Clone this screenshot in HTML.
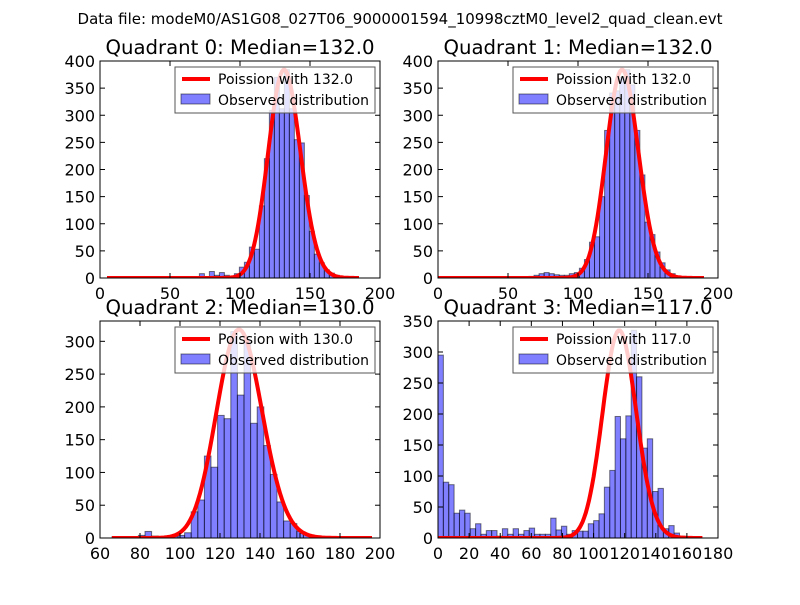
<!DOCTYPE html>
<html><head><meta charset="utf-8"><style>
body{margin:0;background:#fff}
svg text{font-family:"DejaVu Sans","Liberation Sans",sans-serif;fill:#000}
</style></head><body>
<svg id="fig" width="800" height="600" xmlns="http://www.w3.org/2000/svg">
<rect width="800" height="600" fill="#fff"/>
<text x="400" y="24" font-size="15" text-anchor="middle">Data file: modeM0/AS1G08_027T06_9000001594_10998cztM0_level2_quad_clean.evt</text>
</svg>
<script>
// Data arrays
const titles = ["Quadrant 0: Median=132.0","Quadrant 1: Median=132.0","Quadrant 2: Median=130.0","Quadrant 3: Median=117.0"];
const medians = [132, 132, 130, 117];
const poissonScale = [11060, 11060, 9090, 9080];
const curveRange0 = [5, 185];
const curveRange1 = [0, 190];
const curveRange2 = [66, 196];
const curveRange3 = [0, 170];
const binStart = [71, 65, 66, 0];
const binWidth = [3.57, 3.6, 3.3, 3.45];
const counts0 = [8,2,12,5,10,5,3,8,20,29,57,53,133,220,309,370,312,384,312,255,249,152,86,44,28,15,9,5,2];
const counts1 = [3,5,8,10,8,6,5,5,8,10,18,34,66,76,150,272,341,345,370,384,356,272,190,103,80,48,28,15,8,3];
const counts2 = [2,0,0,2,4,10,3,2,3,2,4,8,40,58,125,108,187,182,315,218,300,175,200,141,97,55,26,22,10,5,3,1];
const counts3 = [295,90,86,40,45,40,15,23,6,12,12,3,15,6,15,6,12,16,6,6,6,32,13,19,6,12,11,11,23,28,39,82,109,196,160,197,335,260,145,160,75,80,15,20,8,3];
const xTicks0 = [0,50,100,150,200];
const xTicks2 = [60,80,100,120,140,160,180,200];
const xTicks3 = [0,20,40,60,80,100,120,140,160,180];
const yTicks0 = [0,50,100,150,200,250,300,350,400];
const yTicks2 = [0,50,100,150,200,250,300];
const yTicks3 = [0,50,100,150,200,250,300,350];
const xLims = [[0,200],[0,200],[60,200],[0,180]];
const yLims = [[0,400],[0,400],[0,331],[0,350]];

const NS = "http://www.w3.org/2000/svg";
const svg = document.getElementById('fig');
function mk(tag, attrs, parent){const e=document.createElementNS(NS,tag);for(const k in attrs)e.setAttribute(k,attrs[k]);(parent||svg).appendChild(e);return e;}
function lgamma(z){const c=[76.18009172947146,-86.50532032941677,24.01409824083091,-1.231739572450155,0.1208650973866179e-2,-0.5395239384953e-5];let x=z,y=z,t=x+5.5;t-=(x+0.5)*Math.log(t);let s=1.000000000190015;for(let j=0;j<6;j++)s+=c[j]/++y;return -t+Math.log(2.5066282746310005*s/x);}
function pois(k,mu){return Math.exp(k*Math.log(mu)-mu-lgamma(k+1));}

const boxes=[[100,61,280,217],[438,61,280,217],[100,321,280,217],[438,321,280,217]];
const allCounts=[counts0,counts1,counts2,counts3];
const ranges=[curveRange0,curveRange1,curveRange2,curveRange3];
const xt=[xTicks0,xTicks0,xTicks2,xTicks3];
const yt=[yTicks0,yTicks0,yTicks2,yTicks3];

for(let p=0;p<4;p++){
  const [L,T,W,H]=boxes[p];
  const xs=v=>L+(v-xLims[p][0])/(xLims[p][1]-xLims[p][0])*W;
  const ys=v=>T+H-(v-yLims[p][0])/(yLims[p][1]-yLims[p][0])*H;
  const g=mk('g',{});
  
  
  const t=mk('text',{x:L+W/2,y:T-7,'font-size':19.7,'text-anchor':'middle'},g);
  t.textContent=titles[p];
  
  
  const cp='clip'+p;
  const cl=mk('clipPath',{id:cp},g);mk('rect',{x:L,y:T,width:W,height:H},cl);
  const inner=mk('g',{'clip-path':'url(#'+cp+')'},g);
  allCounts[p].forEach((c,i)=>{
    const x0=binStart[p]+i*binWidth[p];
    const r=mk('rect',{x:xs(x0),y:ys(c),width:xs(x0+binWidth[p])-xs(x0),height:ys(0)-ys(c),fill:'rgba(0,0,255,0.5)',stroke:'rgba(0,0,0,0.5)','stroke-width':1},inner);
    
    
  });
  let d='';
  for(let k=ranges[p][0];k<=ranges[p][1];k++){const v=poissonScale[p]*pois(k,medians[p]);d+=(d?'L':'M')+xs(k).toFixed(1)+','+ys(v).toFixed(1);}
  const pl=mk('path',{d:d,fill:'none',stroke:'#f00','stroke-width':4,'stroke-linejoin':'round'},inner);
  
  
  mk('rect',{x:L,y:T,width:W,height:H,fill:'none',stroke:'#000','stroke-width':1},g);
  xt[p].forEach(v=>{
    const x=xs(v);
    mk('line',{x1:x,y1:T+H,x2:x,y2:T+H-5,stroke:'#000'},g);
    mk('line',{x1:x,y1:T,x2:x,y2:T+5,stroke:'#000'},g);
    const tx=mk('text',{x:x,y:T+H+21,'font-size':16,'text-anchor':'middle'},g);
    tx.textContent=v;
    
    
  });
  yt[p].forEach(v=>{
    const y=ys(v);
    mk('line',{x1:L,y1:y,x2:L+5,y2:y,stroke:'#000'},g);
    mk('line',{x1:L+W,y1:y,x2:L+W-5,y2:y,stroke:'#000'},g);
    const ty=mk('text',{x:L-5,y:y+6,'font-size':16,'text-anchor':'end'},g);
    ty.textContent=v;
    
    
  });
  const lg=mk('g',{},g);
  
  
  const lx=L+75, ly=T+6;
  mk('rect',{x:lx,y:ly,width:200,height:46,fill:'rgba(255,255,255,0.8)',stroke:'#555','stroke-width':1},lg);
  mk('line',{x1:lx+7,y1:ly+12,x2:lx+35,y2:ly+12,stroke:'#f00','stroke-width':4},lg);
  const l1=mk('text',{x:lx+43,y:ly+17,'font-size':14},lg);l1.textContent='Poission with '+medians[p].toFixed(1);
  
  
  mk('rect',{x:lx+6,y:ly+27,width:29,height:10,fill:'rgba(0,0,255,0.5)',stroke:'rgba(0,0,0,0.5)'},lg);
  const l2=mk('text',{x:lx+43,y:ly+38,'font-size':14,textLength:151,lengthAdjust:'spacingAndGlyphs'},lg);l2.textContent='Observed distribution';
  
  
}
</script>
</body></html>
